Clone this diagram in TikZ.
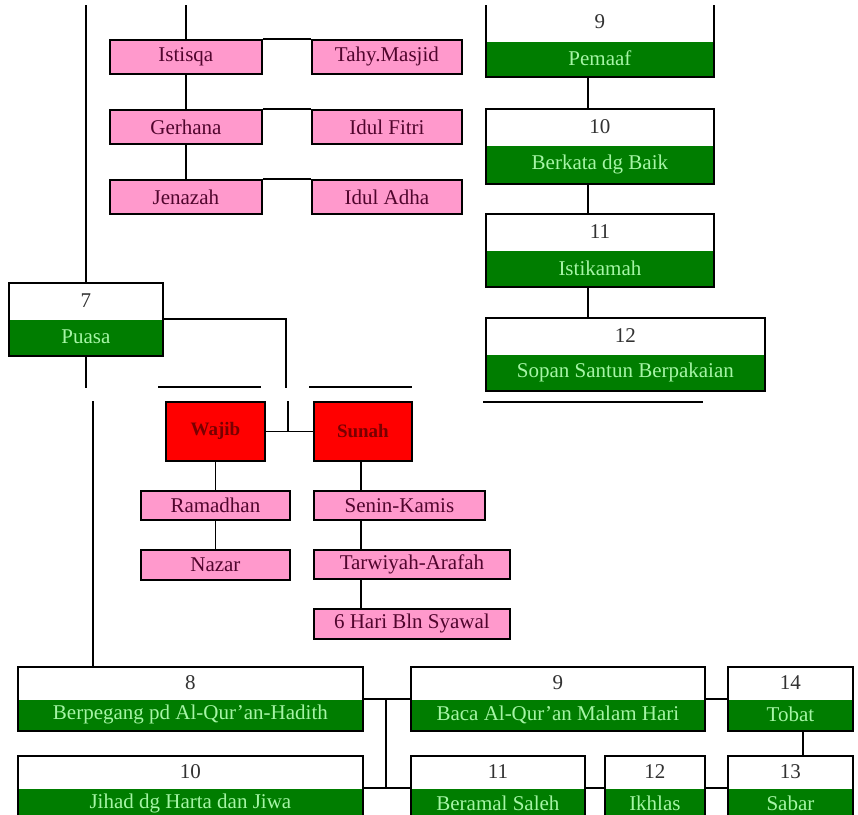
\documentclass[tikz,border=0pt]{standalone}
\usepackage{fontspec}
\setmainfont{Liberation Serif}
\definecolor{boxpink}{RGB}{255,153,204}
\definecolor{pinktext}{RGB}{80,5,45}
\definecolor{boxred}{RGB}{255,0,0}
\definecolor{redtext}{RGB}{120,0,0}
\definecolor{boxgreen}{RGB}{0,125,0}
\definecolor{labgreen}{RGB}{166,245,166}
\definecolor{numgray}{RGB}{50,50,50}

% two-part box: number on white above, label on green below
% #1 name, #2 x, #3 y (top), #4 width, #5 top height, #6 bottom height, #7 number, #8 label
\newcommand\gbox[8]{%
  \node[numpart, minimum width=#4, minimum height=#5] (#1n) at (#2,#3) {#7};
  \node[labpart, minimum width=#4, minimum height=#6] (#1) at (#1n.south west) {#8};
  \draw (#1n.north west) rectangle (#1.south east);
}

\begin{document}
\begin{tikzpicture}[x=1pt,y=-1pt, line width=1.8pt,
  every node/.style={inner sep=0pt, font=\fontsize{21}{24}\selectfont},
  pinkbox/.style={draw=black, line width=1.8pt, fill=boxpink, text=pinktext, anchor=north west},
  redbox/.style={draw=black, line width=1.8pt, fill=boxred, text=redtext, anchor=north west,
    font=\fontsize{19}{21}\selectfont\bfseries},
  numpart/.style={fill=white, text=numgray, anchor=north west},
  labpart/.style={fill=boxgreen, text=labgreen, anchor=north west}]

\useasboundingbox (0,0) rectangle (858,814);
\fill[white] (0,0) rectangle (858,814);

\begin{scope}
\clip (0,5) rectangle (858,814);

% ---- sunah prayers (top left) ----
\node[pinkbox, minimum width=152, minimum height=34] (istisqa) at (109,39) {Istisqa};
\node[pinkbox, minimum width=150, minimum height=34] (tahy) at (311,39) {Tahy.Masjid};
\node[pinkbox, minimum width=152, minimum height=34] (gerhana) at (109,109) {Gerhana};
\node[pinkbox, minimum width=150, minimum height=34] (idulfitri) at (311,109) {Idul Fitri};
\node[pinkbox, minimum width=152, minimum height=34] (jenazah) at (109,179) {Jenazah};
\node[pinkbox, minimum width=150, minimum height=34] (iduladha) at (311,179) {Idul Adha};

% ---- right column ----
\gbox{pemaaf}{486}{3}{226}{36}{34}{9}{Pemaaf}
\gbox{berkata}{486}{109}{226}{34}{37}{10}{Berkata dg Baik}
\gbox{istikamah}{486}{214}{226}{34}{35}{11}{Istikamah}
\gbox{sopan}{486}{318}{277}{34}{35}{12}{Sopan Santun Berpakaian}

% ---- puasa ----
\gbox{puasa}{9}{283}{152}{34}{35}{7}{Puasa}

\node[redbox, minimum width=99, minimum height=59] (wajib) at (165,401) {Wajib};
\node[redbox, minimum width=98, minimum height=59] (sunah) at (313,401) {Sunah};

\node[pinkbox, minimum width=149, minimum height=29] (ramadhan) at (140,490) {Ramadhan};
\node[pinkbox, minimum width=149, minimum height=30] (nazar) at (140,549) {Nazar};
\node[pinkbox, minimum width=171, minimum height=29] (senin) at (313,490) {Senin-Kamis};
\node[pinkbox, minimum width=196, minimum height=29] (tarwiyah) at (313,549) {Tarwiyah-Arafah};
\node[pinkbox, minimum width=196, minimum height=30] (syawal) at (313,608) {6 Hari Bln Syawal};

% ---- bottom rows ----
\gbox{berpegang}{18}{667}{343}{30}{30}{8}{Berpegang pd Al-Qur’an-Hadith}
\gbox{baca}{411}{667}{292}{30}{30}{9}{Baca Al-Qur’an Malam Hari}
\gbox{tobat}{728}{667}{123}{30}{30}{14}{Tobat}
\gbox{jihad}{18}{756}{343}{30}{30}{10}{Jihad dg Harta dan Jiwa}
\gbox{beramal}{411}{756}{172}{30}{30}{11}{Beramal Saleh}
\gbox{ikhlas}{605}{756}{98}{30}{30}{12}{Ikhlas}
\gbox{sabar}{728}{756}{123}{30}{30}{13}{Sabar}

% ---- free ends of connectors ----
\coordinate (topA) at (86,0);
\coordinate (topB) at (185,0);
\coordinate (puasaR) at (286,388);
\coordinate (puasaD) at (86,388);
\coordinate (midA) at (288,401);
\coordinate (leftB) at (93,401);
\coordinate (barA1) at (158,387);
\coordinate (barA2) at (261,387);
\coordinate (barB1) at (309,387);
\coordinate (barB2) at (412,387);
\coordinate (barC1) at (483,402);
\coordinate (barC2) at (703,402);
\coordinate (rcol) at (588,0);
\coordinate (jn) at (386,0);
\coordinate (tj) at (803,0);
\coordinate (sx) at (361,0);

% ---- connectors ----
\draw (topA) -- (topA |- puasan.north);
\draw (istisqa.north |- topB) -- (istisqa.north);
\draw (istisqa.south) -- (gerhana.north);
\draw (gerhana.south) -- (jenazah.north);
\draw (istisqa.north east) -- (tahy.north west);
\draw (gerhana.north east) -- (idulfitri.north west);
\draw (jenazah.north east) -- (iduladha.north west);

\draw (rcol |- pemaaf.south) -- (rcol |- berkatan.north);
\draw (rcol |- berkata.south) -- (rcol |- istikamahn.north);
\draw (rcol |- istikamah.south) -- (rcol |- sopann.north);
\draw (barC1) -- (barC2);

\draw (puasa.north east) -| (puasaR);
\draw (puasa.south -| puasaD) -- (puasaD);
\draw (barA1) -- (barA2);
\draw (barB1) -- (barB2);
\draw (midA) -- (midA |- wajib.east);
\draw (wajib.east) -- (sunah.west);
\draw (leftB) -- (leftB |- berpegangn.north);

\draw (wajib.south) -- (ramadhan.north);
\draw (ramadhan.south) -- (nazar.north);
\draw (sunah.south -| sx) -- (sx |- senin.north);
\draw (sx |- senin.south) -- (sx |- tarwiyah.north);
\draw (sx |- tarwiyah.south) -- (sx |- syawal.north);

\draw (berpegang.north east) -- (baca.north west);
\draw (jn |- berpegang.north) -- (jn |- jihad.north);
\draw (jihad.north east) -- (beramal.north west);
\draw (beramal.north east) -- (ikhlas.north west);
\draw (ikhlas.north east) -- (sabar.north west);
\draw (baca.north east) -- (tobat.north west);
\draw (tj |- tobat.south) -- (tj |- sabarn.north);
\end{scope}
\end{tikzpicture}
\end{document}
